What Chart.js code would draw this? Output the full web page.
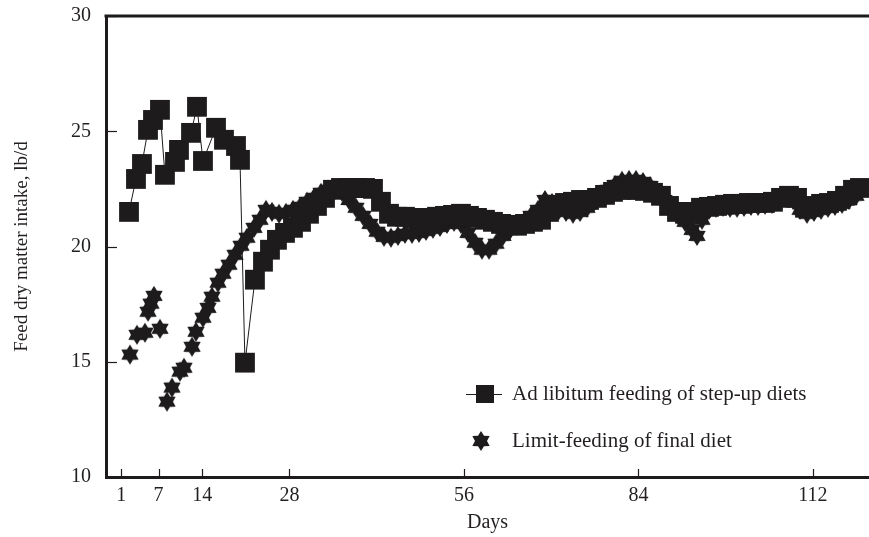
<!DOCTYPE html>
<html>
<head>
<meta charset="utf-8">
<script src="https://cdn.jsdelivr.net/npm/chart.js@4.4.1/dist/chart.umd.min.js"></script>
<style>
  html, body { margin: 0; padding: 0; background: #ffffff; }
  #wrap { width: 869px; height: 537px; }
</style>
</head>
<body>
<div id="wrap"><canvas id="c" width="869" height="537"></canvas></div>
<script>
// ---- Data ----
const seriesNames = ['Ad libitum feeding of step-up diets', 'Limit-feeding of final diet'];

const adDays = [2.25, 3.37, 4.33, 5.30, 6.10, 7.22, 8.02, 9.63, 10.27, 12.20, 13.16, 14.12, 16.21, 17.49, 19.42, 20.06, 20.86, 22.46,
  23.75, 24.87, 25.99, 27.28, 28.56, 29.85, 31.13, 32.41, 33.70, 34.98, 36.26, 37.55, 38.83, 40.12, 41.40, 42.68, 43.97, 45.25,
  46.53, 47.82, 49.10, 50.39, 51.67, 52.95, 54.24, 55.52, 56.80, 58.09, 59.37, 60.65, 61.94, 63.22, 64.51, 65.79, 67.07, 68.36,
  69.64, 70.92, 72.21, 73.49, 74.78, 76.06, 77.34, 78.63, 79.91, 81.19, 82.48, 83.76, 85.04, 86.33, 87.61, 88.90, 90.18, 91.46,
  92.75, 94.03, 95.31, 96.60, 97.88, 99.17, 100.45, 101.73, 103.02, 104.30, 105.58, 106.87, 108.15, 109.44, 110.72, 112.00,
  113.29, 114.57, 115.85, 117.14, 118.42, 119.54];
const adIntake = [21.50, 22.93, 23.58, 25.06, 25.49, 25.93, 23.11, 23.67, 24.19, 24.93, 26.06, 23.71, 25.15, 24.63, 24.36, 23.76, 14.96, 18.56,
  19.34, 19.86, 20.29, 20.59, 20.81, 21.07, 21.42, 21.76, 22.11, 22.46, 22.54, 22.54, 22.54, 22.54, 22.50, 21.94, 21.42, 21.29,
  21.29, 21.20, 21.24, 21.24, 21.29, 21.33, 21.37, 21.42, 21.33, 21.24, 21.16, 21.07, 20.98, 20.94, 20.90, 20.98, 21.07, 21.16,
  21.50, 21.81, 21.89, 21.94, 22.02, 22.02, 22.11, 22.24, 22.37, 22.46, 22.46, 22.46, 22.41, 22.33, 22.20, 21.76, 21.50, 21.42,
  21.50, 21.68, 21.72, 21.76, 21.81, 21.85, 21.85, 21.89, 21.89, 21.89, 21.94, 22.11, 22.20, 22.11, 21.68, 21.76,
  21.85, 21.89, 21.98, 22.20, 22.46, 22.54];

const limDays = [2.41, 3.53, 4.81, 5.30, 5.78, 6.26, 7.22, 8.34, 9.15, 10.43, 11.07, 12.36, 13.00, 14.12, 14.92, 15.56, 16.53, 17.33,
  18.29, 19.26, 20.22, 21.18, 22.30, 23.27, 24.23, 25.19, 26.32, 27.44, 28.56, 29.69, 30.81, 31.93, 33.06, 34.18, 35.30, 36.42,
  37.55, 38.67, 39.79, 40.92, 42.04, 43.16, 44.29, 45.41, 46.53, 47.66, 48.78, 49.90, 51.03, 52.15, 53.27, 54.40, 55.52, 56.64,
  57.77, 58.89, 60.01, 61.14, 62.26, 63.38, 64.51, 65.63, 66.75, 67.88, 69.00, 70.12, 71.25, 72.37, 73.49, 74.62, 75.74, 76.86,
  77.98, 79.11, 80.23, 81.35, 82.48, 83.60, 84.72, 85.85, 86.97, 88.09, 89.22, 90.34, 91.46, 92.59, 93.39, 94.19, 95.31, 96.44,
  97.56, 98.68, 99.81, 100.93, 102.05, 103.18, 104.30, 105.42, 106.55, 107.67, 108.79, 109.92, 111.04, 112.16, 113.29, 114.41,
  115.53, 116.66, 117.78, 118.90];
const limIntake = [15.31, 16.17, 16.26, 17.17, 17.52, 17.86, 16.43, 13.27, 13.88, 14.57, 14.74, 15.65, 16.30, 16.91, 17.34, 17.82, 18.43, 18.82,
  19.21, 19.64, 20.03, 20.38, 20.81, 21.16, 21.59, 21.50, 21.42, 21.46, 21.59, 21.72, 21.94, 22.11, 22.33, 22.46, 22.46, 22.37,
  22.02, 21.68, 21.33, 20.98, 20.64, 20.42, 20.38, 20.46, 20.55, 20.55, 20.59, 20.68, 20.77, 20.85, 20.98, 21.07, 20.98, 20.59,
  20.16, 19.86, 19.86, 20.12, 20.46, 20.72, 20.90, 21.07, 21.33, 21.59, 22.02, 21.89, 21.59, 21.50, 21.42, 21.50, 21.68, 21.94,
  22.20, 22.46, 22.67, 22.85, 22.89, 22.89, 22.80, 22.63, 22.37, 22.02, 21.68, 21.37, 21.07, 20.72, 20.46, 21.16, 21.59, 21.68,
  21.72, 21.68, 21.68, 21.72, 21.76, 21.76, 21.81, 21.85, 22.02, 22.11, 22.02, 21.59, 21.42, 21.50, 21.59, 21.68,
  21.76, 21.85, 22.02, 22.20];

const xTickValues = [1, 7, 14, 28, 56, 84, 112];
const yTickValues = [10, 15, 20, 25, 30];
const xTitle = 'Days';
const yTitle = 'Feed dry matter intake, lb/d';

// ---- styling ----
const INK = '#1d1b1c';
const TXT = '#231f20';
const SERIF = "'Liberation Serif', 'Times New Roman', serif";

function makeStar(outerR, innerR) {
  const size = Math.ceil(outerR * 2 + 2);
  const cv = document.createElement('canvas');
  cv.width = size; cv.height = size;
  const g = cv.getContext('2d');
  const cx = size / 2, cy = size / 2;
  g.beginPath();
  for (let i = 0; i < 12; i++) {
    const r = i % 2 === 0 ? outerR : innerR;
    const a = -Math.PI / 2 + i * Math.PI / 6;
    const px = cx + r * Math.cos(a), py = cy + r * Math.sin(a);
    if (i === 0) g.moveTo(px, py); else g.lineTo(px, py);
  }
  g.closePath();
  g.fillStyle = INK;
  g.fill();
  return cv;
}
const starImg = makeStar(10, 6);

const toXY = (xs, ys) => xs.map((x, i) => ({ x: x, y: ys[i] }));

const framePlugin = {
  id: 'frame',
  afterDraw(chart) {
    const ctx = chart.ctx;
    const a = chart.chartArea;
    const xs = chart.scales.x, ys = chart.scales.y;
    ctx.save();
    ctx.strokeStyle = INK;
    // top border
    ctx.lineWidth = 3;
    ctx.beginPath();
    ctx.moveTo(a.left - 1.5, a.top);
    ctx.lineTo(a.right, a.top);
    ctx.stroke();
    // inward tick marks
    ctx.lineWidth = 1.2;
    xTickValues.forEach(v => {
      const px = Math.round(xs.getPixelForValue(v)) + 0.5;
      ctx.beginPath();
      ctx.moveTo(px, a.bottom);
      ctx.lineTo(px, a.bottom - 8);
      ctx.stroke();
    });
    yTickValues.forEach(v => {
      const py = Math.round(ys.getPixelForValue(v)) + 0.5;
      ctx.beginPath();
      ctx.moveTo(a.left, py);
      ctx.lineTo(a.left + 11, py);
      ctx.stroke();
    });
    // legend
    const ds = chart.data.datasets;
    ctx.font = '21px ' + SERIF;
    ctx.fillStyle = TXT;
    ctx.textBaseline = 'middle';
    ctx.textAlign = 'left';
    const lx = 485, l1 = 394, l2 = 441;
    ctx.lineWidth = 1;
    ctx.beginPath();
    ctx.moveTo(lx - 19, l1 + 0.5);
    ctx.lineTo(lx + 17, l1 + 0.5);
    ctx.stroke();
    ctx.fillStyle = INK;
    ctx.fillRect(lx - 9, l1 - 9, 18, 18);
    ctx.drawImage(starImg, lx - 4 - starImg.width / 2, l2 - starImg.height / 2);
    ctx.fillStyle = TXT;
    ctx.fillText(ds[0].label, 512, l1);
    ctx.fillText(ds[1].label, 512, l2);
    ctx.restore();
  }
};

new Chart(document.getElementById('c'), {
  type: 'scatter',
  data: {
    datasets: [
      {
        label: seriesNames[0],
        data: toXY(adDays, adIntake),
        showLine: true,
        borderColor: INK,
        borderWidth: 1,
        tension: 0,
        pointStyle: 'rect',
        pointRadius: 14,
        pointBackgroundColor: INK,
        pointBorderColor: INK,
        pointBorderWidth: 0,
        pointHoverRadius: 14
      },
      {
        label: seriesNames[1],
        data: toXY(limDays, limIntake),
        showLine: false,
        pointStyle: starImg,
        pointRadius: 10,
        pointBackgroundColor: INK,
        pointBorderColor: INK
      }
    ]
  },
  options: {
    responsive: false,
    animation: false,
    devicePixelRatio: 1,
    layout: { autoPadding: false, padding: { top: 16, left: 0, right: 0, bottom: 0 } },
    plugins: {
      legend: { display: false },
      tooltip: { enabled: false }
    },
    scales: {
      x: {
        type: 'linear',
        min: -1.44,
        max: 120.99,
        afterBuildTicks(scale) { scale.ticks = xTickValues.map(v => ({ value: v })); },
        afterFit(scale) { scale.height = 60; scale.paddingLeft = 0; scale.paddingRight = 0; },
        ticks: {
          color: TXT,
          font: { family: SERIF, size: 20 },
          padding: 7,
          maxRotation: 0,
          autoSkip: false,
          callback: (v) => String(v)
        },
        grid: { display: false, drawTicks: false },
        border: { display: true, color: INK, width: 3 },
        title: {
          display: true,
          text: xTitle,
          color: TXT,
          font: { family: SERIF, size: 20 },
          padding: { top: 0, bottom: 2 }
        }
      },
      y: {
        type: 'linear',
        min: 10,
        max: 30,
        afterBuildTicks(scale) { scale.ticks = yTickValues.map(v => ({ value: v })); },
        afterFit(scale) { scale.width = 106; scale.paddingTop = 0; scale.paddingBottom = 0; },
        ticks: {
          color: TXT,
          font: { family: SERIF, size: 20 },
          padding: 15
        },
        grid: { display: false, drawTicks: false },
        border: { display: true, color: INK, width: 3 },
        title: {
          display: true,
          text: yTitle,
          color: TXT,
          font: { family: SERIF, size: 19 },
          padding: { top: 11, bottom: 0 }
        }
      }
    }
  },
  plugins: [framePlugin]
});
</script>
</body>
</html>
